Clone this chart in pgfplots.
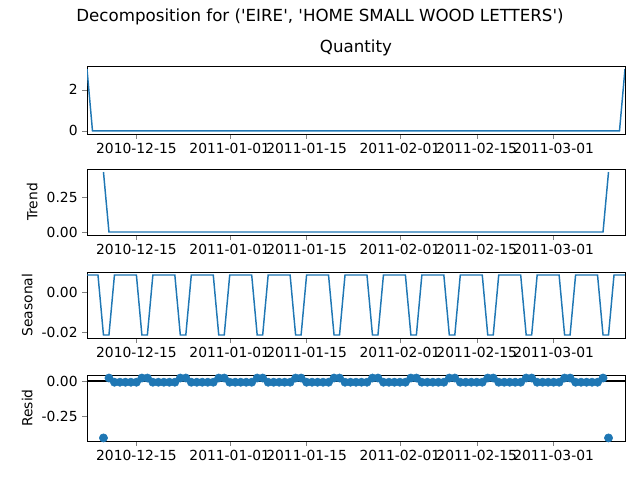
\documentclass[border=0pt]{standalone}
\usepackage{pgfplots}
\pgfplotsset{compat=1.18}
\usepackage{fontspec}
\setmainfont{DejaVu Sans}
\definecolor{c0}{HTML}{1F77B4}
\pgfplotsset{
  dec/.style={scale only axis, width=403.5pt, height=49.5pt, anchor=north west,
    xmin=0, xmax=98, xtick={9,26,40,57,71,85},
    xticklabels={2010-12-15,2011-01-01,2011-01-15,2011-02-01,2011-02-15,2011-03-01},
    /pgf/number format/assume math mode=true,
    tick label style={font=\fontsize{10.4}{12}\selectfont},
    label style={font=\fontsize{10.4}{12}\selectfont},
    tick align=outside, tick pos=left, major tick length=3.5pt,
    ylabel style={at={(ticklabel cs:0.5)}, anchor=south, yshift=0pt},
    axis line style={line width=0.6pt}},
  dec2/.style={scaled y ticks=false, yticklabel style={/pgf/number format/fixed,/pgf/number format/precision=2,/pgf/number format/fixed zerofill}}
}
\begin{document}
\begin{tikzpicture}
\path[use as bounding box] (0,0) rectangle (480pt,-360pt);
\node[font=\fontsize{12.5}{14}\selectfont] at (240pt,-12.75pt) {Decomposition for (\textquotesingle EIRE\textquotesingle, \textquotesingle HOME SMALL WOOD LETTERS\textquotesingle)};
\begin{axis}[dec, at={(65.25pt,-49.5pt)}, height=51pt, ymin=-0.15, ymax=3.15, ytick={0,2},
  title={Quantity}, title style={font=\fontsize{12.5}{14}\selectfont, yshift=-2pt}]
\addplot[c0, line width=1.1pt] coordinates {(0,3)(1,0)(97,0)(98,3)};
\end{axis}
\begin{axis}[dec, dec2, at={(65.25pt,-126.75pt)}, ymin=-0.0215, ymax=0.45, ytick={0,0.25}, ylabel={Trend}]
\addplot[c0, line width=1.1pt] coordinates {(3,0.4286)(4,0)(94,0)(95,0.4286)};
\end{axis}
\begin{axis}[dec, dec2, at={(65.25pt,-204pt)}, ymin=-0.0229, ymax=0.0101, ytick={-0.02,0}, ylabel={Seasonal}]
\addplot[c0, line width=1.1pt] coordinates {(0,0.0086)
(2,0.0086)(3,-0.0214)(4,-0.0214)(5,0.0086)
(9,0.0086)(10,-0.0214)(11,-0.0214)(12,0.0086)
(16,0.0086)(17,-0.0214)(18,-0.0214)(19,0.0086)
(23,0.0086)(24,-0.0214)(25,-0.0214)(26,0.0086)
(30,0.0086)(31,-0.0214)(32,-0.0214)(33,0.0086)
(37,0.0086)(38,-0.0214)(39,-0.0214)(40,0.0086)
(44,0.0086)(45,-0.0214)(46,-0.0214)(47,0.0086)
(51,0.0086)(52,-0.0214)(53,-0.0214)(54,0.0086)
(58,0.0086)(59,-0.0214)(60,-0.0214)(61,0.0086)
(65,0.0086)(66,-0.0214)(67,-0.0214)(68,0.0086)
(72,0.0086)(73,-0.0214)(74,-0.0214)(75,0.0086)
(79,0.0086)(80,-0.0214)(81,-0.0214)(82,0.0086)
(86,0.0086)(87,-0.0214)(88,-0.0214)(89,0.0086)
(93,0.0086)(94,-0.0214)(95,-0.0214)(96,0.0086)(98,0.0086)};
\end{axis}
\begin{axis}[dec, dec2, at={(65.25pt,-281.25pt)}, ymin=-0.429, ymax=0.043, ytick={-0.25,0}, ylabel={Resid}]
\draw[black, line width=1.1pt] (axis cs:0,0) -- (axis cs:98,0);
\addplot[only marks, mark=*, mark size=3.1pt, c0, mark options={draw=c0, fill=c0}] coordinates {
(3,-0.407)(4,0.0214)(5,-0.0086)(6,-0.0086)(7,-0.0086)(8,-0.0086)(9,-0.0086)
(10,0.0214)(11,0.0214)(12,-0.0086)(13,-0.0086)(14,-0.0086)(15,-0.0086)(16,-0.0086)
(17,0.0214)(18,0.0214)(19,-0.0086)(20,-0.0086)(21,-0.0086)(22,-0.0086)(23,-0.0086)
(24,0.0214)(25,0.0214)(26,-0.0086)(27,-0.0086)(28,-0.0086)(29,-0.0086)(30,-0.0086)
(31,0.0214)(32,0.0214)(33,-0.0086)(34,-0.0086)(35,-0.0086)(36,-0.0086)(37,-0.0086)
(38,0.0214)(39,0.0214)(40,-0.0086)(41,-0.0086)(42,-0.0086)(43,-0.0086)(44,-0.0086)
(45,0.0214)(46,0.0214)(47,-0.0086)(48,-0.0086)(49,-0.0086)(50,-0.0086)(51,-0.0086)
(52,0.0214)(53,0.0214)(54,-0.0086)(55,-0.0086)(56,-0.0086)(57,-0.0086)(58,-0.0086)
(59,0.0214)(60,0.0214)(61,-0.0086)(62,-0.0086)(63,-0.0086)(64,-0.0086)(65,-0.0086)
(66,0.0214)(67,0.0214)(68,-0.0086)(69,-0.0086)(70,-0.0086)(71,-0.0086)(72,-0.0086)
(73,0.0214)(74,0.0214)(75,-0.0086)(76,-0.0086)(77,-0.0086)(78,-0.0086)(79,-0.0086)
(80,0.0214)(81,0.0214)(82,-0.0086)(83,-0.0086)(84,-0.0086)(85,-0.0086)(86,-0.0086)
(87,0.0214)(88,0.0214)(89,-0.0086)(90,-0.0086)(91,-0.0086)(92,-0.0086)(93,-0.0086)
(94,0.0214)(95,-0.407)};
\end{axis}
\end{tikzpicture}
\end{document}
